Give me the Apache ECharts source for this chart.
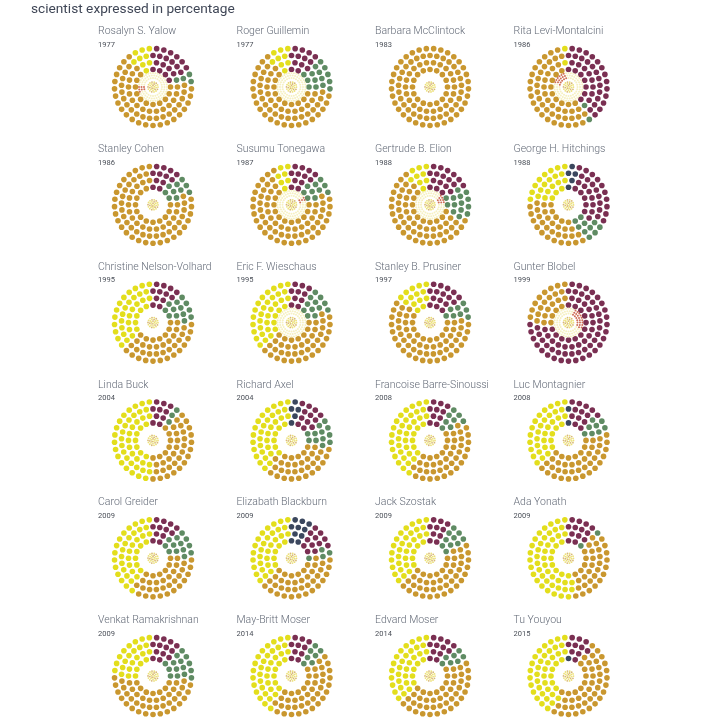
<!DOCTYPE html>
<html><head><meta charset="utf-8">
<script src="https://cdn.jsdelivr.net/npm/echarts@6/dist/echarts.min.js"></script>
<style>html,body{margin:0;padding:0;background:#fff}#c{width:724px;height:724px}</style>
</head><body><div id="c"></div>
<script>
const chartTitle = 'scientist expressed in percentage';
const names = ['Rosalyn S. Yalow','Roger Guillemin','Barbara McClintock','Rita Levi-Montalcini',
 'Stanley Cohen','Susumu Tonegawa','Gertrude B. Elion','George H. Hitchings',
 'Christine Nelson-Volhard','Eric F. Wieschaus','Stanley B. Prusiner','Gunter Blobel',
 'Linda Buck','Richard Axel','Francoise Barre-Sinoussi','Luc Montagnier',
 'Carol Greider','Elizabath Blackburn','Jack Szostak','Ada Yonath',
 'Venkat Ramakrishnan','May-Britt Moser','Edvard Moser','Tu Youyou'];
const years = ['1977','1977','1983','1986','1986','1987','1988','1988','1995','1995','1997','1999',
 '2004','2004','2008','2008','2009','2009','2009','2009','2009','2014','2014','2015'];
// percentages (100 dots each), clockwise order from top: navy, purple, green, gold, yellow
const navyPct   = [0,0,0,0, 0,0,0,5, 0,0,0,0, 0,5,0,2, 0,10,0,0, 0,0,0,1];
const purplePct = [20,13,0,40, 12,12,18,30, 12,10,16,75, 10,12,10,13, 12,12,10,13, 13,10,12,10];
const greenPct  = [4,15,0,2, 10,10,14,10, 13,12,8,0, 3,12,8,8, 13,4,10,2, 15,7,7,0];
const goldPct   = [67,63,100,56, 78,71,59,33, 40,43,62,25, 39,33,42,42, 35,39,45,33, 47,43,46,47];
const yellowPct = [9,9,0,2, 0,7,9,22, 35,35,14,0, 48,38,40,35, 40,35,35,52, 25,40,35,42];
// inner ring of small dots: shown or not, red share (%) and where red starts (deg clockwise from top)
const innerShown = [1,1,0,1, 0,1,1,0, 0,1,0,1, 0,0,0,0, 0,0,0,0, 0,0,0,0];
const innerRed   = [6,2,0,18, 0,5,10,0, 0,0,0,25, 0,0,0,0, 0,0,0,0, 0,0,0,0];
const redStart   = [250,262,0,285, 0,60,50,0, 0,0,0,30, 0,0,0,0, 0,0,0,0, 0,0,0,0];

const colors = {navy:'#3b475e', purple:'#7a2f52', green:'#5f8b63', gold:'#c9972f', yellow:'#e3de1c'};
const ringR = [17.5,24.5,31.5,38.5], ringN = [16,22,29,33];
const innerR = [9,11.5,14], innerN = [24,30,36];
const centerR = [1.5,3.2,5], centerN = [5,9,14];

const chart = echarts.init(document.getElementById('c'));
const titles = [{text:chartTitle,left:26,top:-2,textStyle:{fontFamily:'Roboto',fontSize:13.7,fontWeight:'normal',color:'#3f4656'}}];
const polar=[], angleAxis=[], radiusAxis=[], series=[];
names.forEach((nm,i)=>{
  const col=i%4,row=Math.floor(i/4);
  const nx=98+col*138.5, ny=30+row*117.8;
  const cx=nx+55, cy=ny+57;
  titles.push({text:nm,subtext:years[i],left:nx-5,top:ny-9,itemGap:4,
    textStyle:{fontFamily:'Roboto',fontSize:10.5,fontWeight:300,color:'#646b78'},
    subtextStyle:{fontFamily:'Roboto',fontSize:7.5,color:'#4a4f58'}});
  polar.push({center:[cx,cy],radius:41});
  angleAxis.push({polarIndex:i,min:0,max:360,startAngle:90,clockwise:true,show:false});
  radiusAxis.push({polarIndex:i,min:0,max:41,show:false});
  const pts=[];
  ringR.forEach((r,k)=>{const n=ringN[k];const off=(k%2)*0.5;for(let j=0;j<n;j++){pts.push([r,((j+off)*360/n)%360]);}});
  pts.sort((a,b)=>a[1]-b[1]||a[0]-b[0]);
  const cats=[['navy',navyPct[i]],['purple',purplePct[i]],['green',greenPct[i]],['gold',goldPct[i]],['yellow',yellowPct[i]]];
  const seq=[];cats.forEach(([c,v])=>{for(let q=0;q<v;q++)seq.push(c);});
  const data=pts.map((p,idx)=>({value:p,itemStyle:{color:colors[seq[idx]||'gold'],opacity:1}}));
  series.push({type:'scatter',coordinateSystem:'polar',polarIndex:i,symbolSize:5.6,data,silent:true,itemStyle:{opacity:1}});
  if(innerShown[i]){
    const idata=[];
    innerR.forEach((r,k)=>{const n=innerN[k];for(let j=0;j<n;j++){const a=(j+(k%2)*0.5)*360/n;
      const rel=((a-redStart[i])%360+360)%360;
      const red=rel<innerRed[i]*3.6;
      idata.push({value:[r,a],itemStyle:{color:red?'#cf6f58':'#f6f1c2',opacity:1}});}});
    series.push({type:'scatter',coordinateSystem:'polar',polarIndex:i,symbolSize:2,data:idata,silent:true});
  }
  const cdata=[];
  centerR.forEach((r,k)=>{const n=centerN[k];for(let j=0;j<n;j++){const a=(j*360/n+k*20)%360;
    cdata.push({value:[r,a],itemStyle:{color:(j%3===0)?'#d8b878':'#ece07a',opacity:1}});}});
  series.push({type:'scatter',coordinateSystem:'polar',polarIndex:i,symbolSize:1.8,data:cdata,silent:true});
});
chart.setOption({animation:false,backgroundColor:'#fff',title:titles,polar,angleAxis,radiusAxis,series});
</script></body></html>
